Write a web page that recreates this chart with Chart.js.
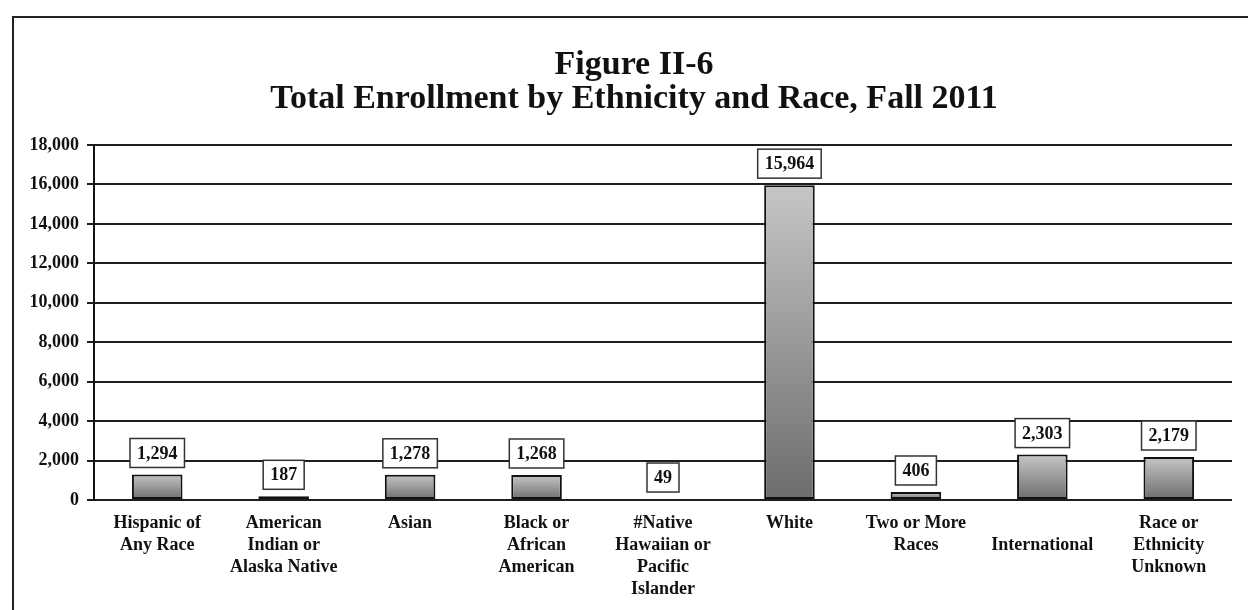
<!DOCTYPE html>
<html>
<head>
<meta charset="utf-8">
<script src="https://cdn.jsdelivr.net/npm/chart.js@4"></script>
<style>
  html, body { margin: 0; padding: 0; background: #fff; }
  #wrap { width: 1248px; height: 610px; position: relative; }
</style>
</head>
<body>
<div id="wrap"><canvas id="enrollChart" width="1248" height="610"></canvas></div>
<script>
// Figure II-6 data
const categories = [
    ['Hispanic of', 'Any Race'],
    ['American', 'Indian or', 'Alaska Native'],
    ['Asian'],
    ['Black or', 'African', 'American'],
    ['#Native', 'Hawaiian or', 'Pacific', 'Islander'],
    ['White'],
    ['Two or More', 'Races'],
    ['', 'International'],
    ['Race or', 'Ethnicity', 'Unknown']
];
const enrollment = [1294, 187, 1278, 1268, 49, 15964, 406, 2303, 2179];
const yTicks = [0, 2000, 4000, 6000, 8000, 10000, 12000, 14000, 16000, 18000];
const titleLines = ['Figure II-6', 'Total Enrollment by Ethnicity and Race, Fall 2011'];

const serif = "'Liberation Serif', 'Times New Roman', serif";

// outer frame (only left and top edges are visible) + two-line title
const framePlugin = {
    id: 'frame',
    beforeDraw(chart) {
        const c = chart.ctx;
        c.save();
        c.strokeStyle = '#222';
        c.lineWidth = 2;
        c.beginPath();
        c.moveTo(13, 610);
        c.lineTo(13, 17);
        c.lineTo(1248, 17);
        c.stroke();
        c.fillStyle = '#111';
        c.font = 'bold 34px ' + serif;
        c.textAlign = 'center';
        c.textBaseline = 'middle';
        c.fillText(titleLines[0], 634, 65);
        c.fillText(titleLines[1], 634, 99);
        c.restore();
    }
};

// boxed value labels above bars
const boxLabels = {
    id: 'boxLabels',
    afterDatasetsDraw(chart) {
        const c = chart.ctx;
        const meta = chart.getDatasetMeta(0);
        c.save();
        c.font = 'bold 18px ' + serif;
        c.textAlign = 'center';
        c.textBaseline = 'middle';
        meta.data.forEach((bar, i) => {
            const txt = enrollment[i].toLocaleString('en-US');
            const w = c.measureText(txt).width + 14;
            const h = 29;
            const bottom = bar.y - 7;
            const x = bar.x - w / 2;
            c.fillStyle = '#fff';
            c.fillRect(x, bottom - h, w, h);
            c.strokeStyle = '#333';
            c.lineWidth = 1.5;
            c.strokeRect(x, bottom - h, w, h);
            c.fillStyle = '#111';
            c.fillText(txt, bar.x, bottom - h / 2 + 1);
        });
        c.restore();
    }
};

function barGradient(context) {
    const chart = context.chart;
    if (!chart.chartArea || context.raw === undefined) return '#999';
    const y = chart.scales.y;
    const top = y.getPixelForValue(context.raw);
    const bot = y.getPixelForValue(0);
    const g = chart.ctx.createLinearGradient(0, top, 0, bot);
    g.addColorStop(0, '#c6c6c6');
    g.addColorStop(1, '#6c6c6c');
    return g;
}

new Chart(document.getElementById('enrollChart'), {
    type: 'bar',
    data: {
        labels: categories,
        datasets: [{
            data: enrollment,
            backgroundColor: barGradient,
            borderColor: '#111',
            borderWidth: 2,
            borderSkipped: false,
            categoryPercentage: 1,
            barPercentage: 0.4
        }]
    },
    options: {
        responsive: false,
        animation: false,
        events: [],
        layout: { padding: { top: 145, left: 0, right: 16, bottom: 0 } },
        plugins: {
            legend: { display: false },
            tooltip: { enabled: false },
            title: { display: false }
        },
        scales: {
            x: {
                grid: { display: false, drawTicks: false },
                border: { display: false },
                ticks: {
                    color: '#111',
                    padding: 12,
                    maxRotation: 0,
                    autoSkip: false,
                    font: { family: serif, size: 18, weight: 'bold', lineHeight: 1.22 }
                },
                afterFit(scale) { scale.height = 110; }
            },
            y: {
                min: 0,
                max: 18000,
                afterBuildTicks(scale) { scale.ticks = yTicks.map(v => ({ value: v })); },
                grid: { color: '#1e1e1e', lineWidth: 2, tickLength: 7, drawTicks: true },
                border: { display: true, color: '#111', width: 2 },
                ticks: {
                    color: '#111',
                    padding: 8,
                    font: { family: serif, size: 18, weight: 'bold' },
                    callback: v => v.toLocaleString('en-US')
                },
                afterFit(scale) { scale.width = 94; }
            }
        }
    },
    plugins: [framePlugin, boxLabels]
});
</script>
</body>
</html>
